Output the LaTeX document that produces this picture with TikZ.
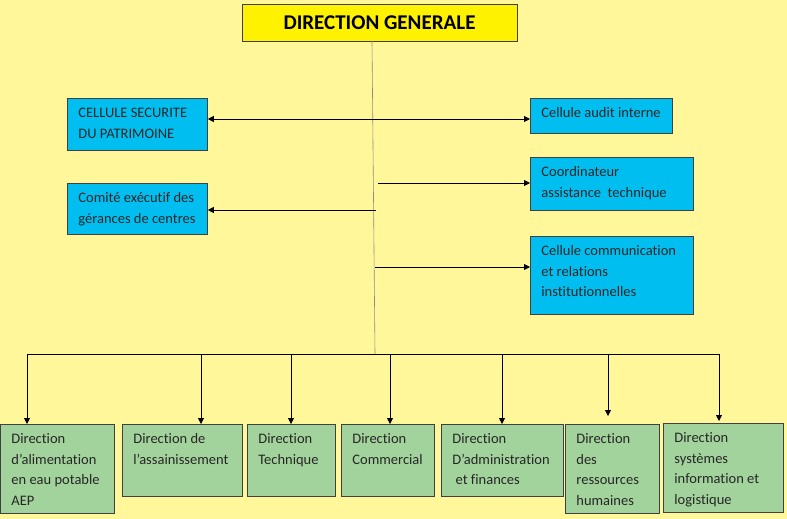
\documentclass[tikz,border=0pt]{standalone}
\usepackage{fontspec}
\setmainfont{Carlito}[Ligatures=NoCommon]
\usetikzlibrary{arrows.meta}
\definecolor{bgyellow}{HTML}{FFF799}
\definecolor{topyellow}{HTML}{FFF200}
\definecolor{cellblue}{HTML}{00BFF0}
\definecolor{dirgreen}{HTML}{A3D39C}
\newcommand{\boxtxt}[3]{\parbox[c][#2pt][t]{#1pt}{\fontsize{14.5}{20.6}\selectfont\raggedright\leftskip=11pt\rule{0pt}{19pt}#3}}
\tikzset{
  cell/.style={draw=black!75, line width=0.8pt, fill=cellblue, inner sep=0pt, anchor=north west, text=black!85},
  dirbox/.style={cell, fill=dirgreen},
  link/.style={-{Triangle[length=6pt,width=6pt]}, line width=0.8pt}
}
\begin{document}
\begin{tikzpicture}[x=1pt,y=-1pt]
    \fill[bgyellow] (0,0) rectangle (787,519);
    \useasboundingbox (0,0) rectangle (787,519);
    \node[draw=black!75, fill=topyellow, minimum width=275pt, minimum height=37pt, inner sep=0pt, font=\fontsize{21}{22}\selectfont\bfseries] (dg) at (379.5,22.5) {DIRECTION GENERALE};
    \node[cell] (secu) at (67,98) {\boxtxt{140}{52}{CELLULE SECURITE\\DU PATRIMOINE}};
    \node[cell] (comite) at (67,183) {\boxtxt{140}{51}{Comité exécutif des\\gérances de centres}};
    \node[cell] (audit) at (530,98) {\boxtxt{142}{35}{Cellule audit interne}};
    \node[cell] (coord) at (530,157) {\boxtxt{163}{53}{Coordinateur\\assistance\ \ technique}};
    \node[cell] (comm) at (530,236) {\boxtxt{163}{78}{Cellule communication\\et relations\\institutionnelles}};
    \node[dirbox] (aep) at (0,424) {\boxtxt{114}{89}{Direction\\d’alimentation\\en eau potable\\AEP}};
    \node[dirbox] (assain) at (122,424) {\boxtxt{120}{72}{Direction de\\l’assainissement}};
    \node[dirbox] (tech) at (247,424) {\boxtxt{88}{72}{Direction\\Technique}};
    \node[dirbox] (commerc) at (341,424) {\boxtxt{93}{72}{Direction\\Commercial}};
    \node[dirbox] (admin) at (441,424) {\boxtxt{122}{72}{Direction\\D’administration\\\ et finances}};
    \node[dirbox] (rh) at (565,424) {\boxtxt{94}{89}{Direction\\des\\ressources\\humaines}};
    \node[dirbox] (si) at (663,423) {\boxtxt{120}{89}{Direction\\systèmes\\information et\\logistique}};
    \coordinate (hub) at (375,354);
    \coordinate (t1) at (373,119);
    \coordinate (t2) at (378,183);
    \coordinate (t3) at (376,210);
    \coordinate (t4) at (375,267);
    \coordinate (d1) at (27,354);
    \coordinate (d2) at (201,354);
    \coordinate (d3) at (291,354);
    \coordinate (d4) at (390,354);
    \coordinate (d5) at (502,354);
    \coordinate (d6) at (608,354);
    \coordinate (d7) at (719,354);
    \draw[black!45, line width=0.6pt] ([xshift=-7.5pt]dg.south) -- (hub);
    \draw[line width=0.8pt] (d1) -- (d7);
    \path[link] (secu.east |- t1) edge[{Triangle[length=6pt,width=6pt]}-{Triangle[length=6pt,width=6pt]}] (audit.west |- t1)
      (t2) edge (coord.west |- t2)
      (t3) edge (comite.east |- t3)
      (t4) edge (comm.west |- t4);
    \path[link] (d1) edge (d1 |- aep.north)
      (d2) edge (d2 |- assain.north)
      (d3) edge (d3 |- tech.north)
      (d4) edge (d4 |- commerc.north)
      (d5) edge (d5 |- admin.north)
      (d6) edge[shorten >=8pt] (d6 |- rh.north)
      (d7) edge[shorten >=2pt] (d7 |- si.north);
\end{tikzpicture}
\end{document}
